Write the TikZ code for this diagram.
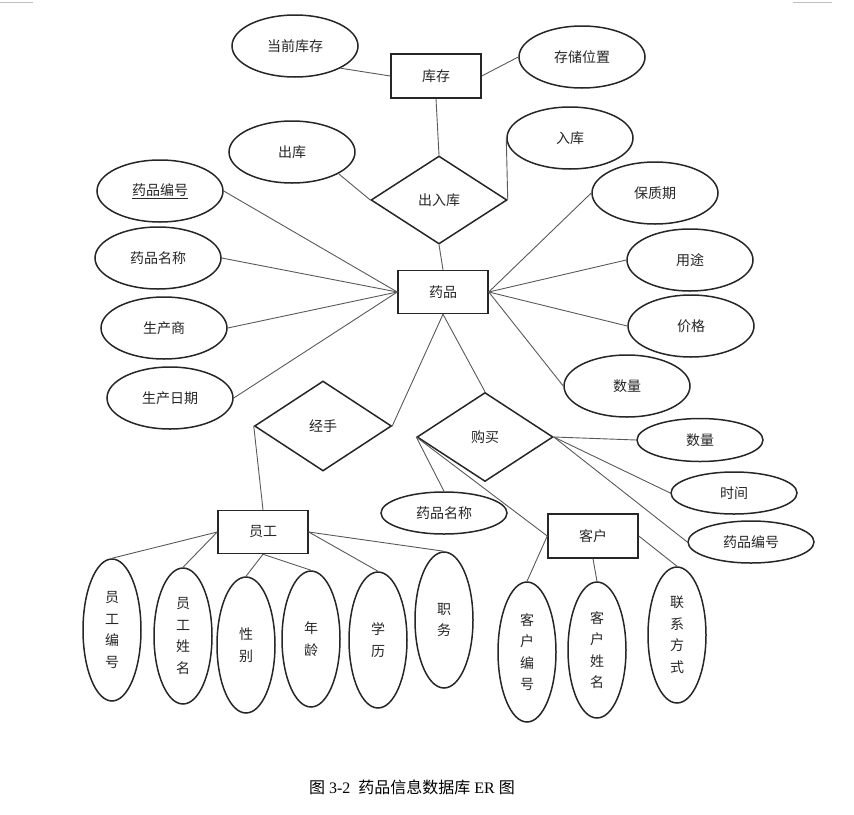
\documentclass[tikz,border=0pt]{standalone}
\usepackage{fontspec}
\setmainfont{Liberation Serif}
\newfontfamily\cjk{Noto Sans CJK SC}
\usetikzlibrary{shapes.geometric}

\begin{document}
\begin{tikzpicture}[x=1pt,y=-1pt,
  every node/.style={font=\cjk\fontsize{14}{16}\selectfont, text=black!85},
  shapeline/.style={draw=black!85, line width=1.5pt},
  entity/.style={shapeline, rectangle, minimum width=90pt, minimum height=44pt, inner sep=0pt},
  attr/.style={shapeline, ellipse, minimum width=126pt, minimum height=62pt, inner sep=0pt},
  flatattr/.style={attr, minimum height=42pt},
  tallattr/.style={shapeline, ellipse, minimum width=58pt, minimum height=136pt, inner sep=0pt, align=center, font=\cjk\fontsize{14}{21.5}\selectfont},
  rel/.style={shapeline, diamond, minimum width=136pt, minimum height=88pt, inner sep=0pt},
  link/.style={draw=black!65, line width=0.9pt},
  cropmark/.style={draw=black!25, line width=0.6pt}
]
\useasboundingbox (0,0) rectangle (854,814);

% page corner marks
\coordinate (cmLa) at (0,2);   \coordinate (cmLb) at (33,2);
\coordinate (cmRa) at (793,2); \coordinate (cmRb) at (832,2);
\draw[cropmark] (cmLa) -- (cmLb);
\draw[cropmark] (cmRa) -- (cmRb);

% stock part
\node[entity] (kucun) at (436,76) {库存};
\node[attr] (dqkc) at (295,46) {当前库存};
\node[attr] (ccwz) at (582,57) {存储位置};
\node[attr] (chuku) at (292,152) {出库};
\node[attr] (ruku) at (570,138) {入库};
\node[rel] (crk) at (439,200) {出入库};

% drug entity and attributes
\node[entity, minimum height=43pt] (yaopin) at (443,292) {药品};
\node[attr] (ypbh) at (160,191) {\underline{药品编号}};
\node[attr] (ypmc) at (158,258) {药品名称};
\node[attr] (scs) at (164,328) {生产商};
\node[attr] (scrq) at (170,398) {生产日期};
\node[attr] (bzq) at (655,193) {保质期};
\node[attr] (yt) at (690,260) {用途};
\node[attr] (jg) at (691,326) {价格};
\node[attr] (sl) at (627,386) {数量};

% handling and purchase relations
\node[rel, minimum width=137pt, minimum height=90pt] (jingshou) at (323,426) {经手};
\node[rel, minimum height=89pt] (goumai) at (485,437) {购买};
\node[flatattr, minimum height=43pt] (gmsl) at (700,440) {数量};
\node[flatattr] (gmsj) at (734,493) {时间};
\node[flatattr] (gmbh) at (751,542) {药品编号};
\node[flatattr] (gmmc) at (444,513) {药品名称};

% customer entity
\node[entity] (kehu) at (593,536) {客户};
\node[tallattr, minimum height=140pt] (khbh) at (527,652) {客\\户\\编\\号};
\node[tallattr] (khxm) at (597,650) {客\\户\\姓\\名};
\node[tallattr] (lxfs) at (677,635) {联\\系\\方\\式};

% employee entity
\node[entity, minimum height=43pt] (yuangong) at (263,532) {员工};
\node[tallattr, minimum height=142pt] (ygbh) at (112,630) {员\\工\\编\\号};
\node[tallattr] (ygxm) at (183,636) {员\\工\\姓\\名};
\node[tallattr] (xb) at (246,645) {性\\别};
\node[tallattr] (nl) at (311,639) {年\\龄};
\node[tallattr] (xl) at (378,640) {学\\历};
\node[tallattr] (zw) at (444,620) {职\\务};

% caption
\node[font=\fontsize{16}{19}\selectfont, text=black] (caption) at (412,787)
  {{\cjk 图} 3-2\enspace{\cjk 药品信息数据库} ER {\cjk 图}};

% connectors: stock
\draw[link] (dqkc.-26) -- (kucun.west);
\draw[link] (kucun.east) -- (ccwz.west);
\draw[link] (kucun.south) -- (crk.north);
\draw[link] (chuku.-25) -- (crk.west);
\draw[link] (crk.east) -- (ruku.west);
\draw[link] (crk.south) -- (yaopin.north);

% connectors: drug attributes
\draw[link] (yaopin.west) -- (ypbh.east);
\draw[link] (yaopin.west) -- (ypmc.east);
\draw[link] (yaopin.west) -- (scs.east);
\draw[link] (yaopin.west) -- (scrq.east);
\draw[link] (yaopin.east) -- (bzq.west);
\draw[link] (yaopin.east) -- (yt.west);
\draw[link] (yaopin.east) -- (jg.west);
\draw[link] (yaopin.east) -- (sl.west);

% connectors: relations
\draw[link] (yaopin.south) -- (jingshou.east);
\draw[link] (yaopin.south) -- (goumai.north);
\draw[link] (jingshou.west) -- (yuangong.north);
\draw[link] (goumai.west) -- (gmmc.north);
\draw[link] (goumai.west) -- (kehu.west);
\draw[link] (goumai.east) -- (gmsl.west);
\draw[link] (goumai.east) -- (gmsj.west);
\draw[link] (goumai.east) -- (gmbh.west);

% connectors: customer
\draw[link] (kehu.west) -- (khbh.north);
\draw[link] (kehu.south) -- (khxm.north);
\draw[link] (kehu.east) -- (lxfs.north);

% connectors: employee
\draw[link] (yuangong.west) -- (ygbh.north);
\draw[link] (yuangong.west) -- (ygxm.north);
\draw[link] (yuangong.south) -- (xb.north);
\draw[link] (yuangong.south) -- (nl.north);
\draw[link] (yuangong.east) -- (xl.north);
\draw[link] (yuangong.east) -- (zw.north);
\end{tikzpicture}
\end{document}
